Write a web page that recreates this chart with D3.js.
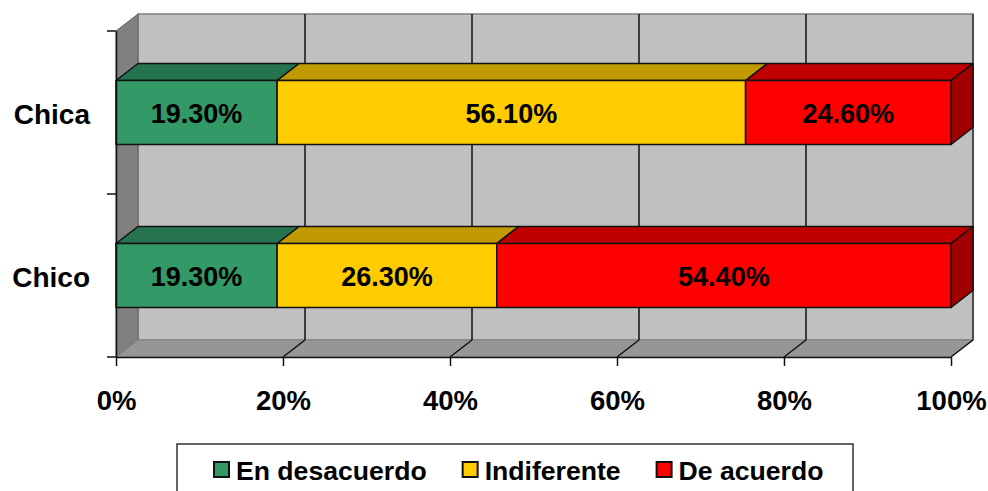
<!DOCTYPE html>
<html>
<head>
<meta charset="utf-8">
<script src="https://cdn.jsdelivr.net/npm/d3@7"></script>
<style>
  html, body { margin: 0; padding: 0; background: #fff; }
  svg { display: block; font-family: "Liberation Sans", Arial, sans-serif; }
</style>
</head>
<body>
<svg id="chart" width="988" height="491"></svg>
<script>
// ---- data ----
const categories = ["Chica", "Chico"];
const seriesNames = ["En desacuerdo", "Indiferente", "De acuerdo"];
const enDesacuerdo = [19.3, 19.3];
const indiferente = [56.1, 26.3];
const deAcuerdo = [24.6, 54.4];
const xTicks = [0, 20, 40, 60, 80, 100];

// ---- styles ----
const frontColors = ["#339966", "#FFCC00", "#FF0000"];
const topColors = ["#267350", "#C09A00", "#C00000"];
const sideColor = "#A00000";

const table = categories.map((c, i) => ({
  cat: c,
  "En desacuerdo": enDesacuerdo[i],
  "Indiferente": indiferente[i],
  "De acuerdo": deAcuerdo[i]
}));
const stacked = d3.stack().keys(seriesNames)(table);

const svg = d3.select("#chart");
const dx = 22, dy = 17;
const x = d3.scaleLinear().domain([0, 100]).range([116, 951]);
const y = d3.scaleBand().domain(categories).range([31, 357])
  .paddingInner(0.607).paddingOuter(0.3035);
const yTop = y.range()[0], yBot = y.range()[1];

// back wall
svg.append("rect")
  .attr("x", x(0) + dx).attr("y", yTop - dy)
  .attr("width", x(100) - x(0)).attr("height", yBot - yTop)
  .attr("fill", "#C0C0C0").attr("stroke", "#808080").attr("stroke-width", 1.5);
// left wall
svg.append("polygon")
  .attr("points", [[x(0), yTop], [x(0) + dx, yTop - dy], [x(0) + dx, yBot - dy], [x(0), yBot]].join(" "))
  .attr("fill", "#808080").attr("stroke", "#606060").attr("stroke-width", 1);
// floor
svg.append("polygon")
  .attr("points", [[x(0), yBot], [x(0) + dx, yBot - dy], [x(100) + dx, yBot - dy], [x(100), yBot]].join(" "))
  .attr("fill", "#969696").attr("stroke", "#808080").attr("stroke-width", 1);

// gridlines
const grid = svg.append("g").attr("stroke", "#111").attr("stroke-width", 1.5).attr("fill", "none");
xTicks.filter(t => t > 0).forEach(t => {
  grid.append("line")
    .attr("x1", x(t) + dx).attr("x2", x(t) + dx)
    .attr("y1", yTop - dy).attr("y2", yBot - dy)
    .attr("stroke", t === 100 ? "#333" : "#111");
  grid.append("line")
    .attr("x1", x(t)).attr("y1", yBot)
    .attr("x2", x(t) + dx).attr("y2", yBot - dy);
});

// bars
const bars = svg.append("g");
stacked.forEach((s, si) => {
  s.forEach((d, ci) => {
    const x0 = x(d[0]), x1 = x(d[1]);
    const yt = y(categories[ci]), yb = yt + y.bandwidth();
    const g = bars.append("g").attr("stroke", "#111").attr("stroke-width", 1.5).attr("stroke-linejoin", "round");
    g.append("polygon")
      .attr("points", [[x0, yt], [x0 + dx, yt - dy], [x1 + dx, yt - dy], [x1, yt]].join(" "))
      .attr("fill", topColors[si]);
    if (si === stacked.length - 1) {
      g.append("polygon")
        .attr("points", [[x1, yt], [x1 + dx, yt - dy], [x1 + dx, yb - dy], [x1, yb]].join(" "))
        .attr("fill", sideColor);
    }
    g.append("rect")
      .attr("x", x0).attr("y", yt).attr("width", x1 - x0).attr("height", yb - yt)
      .attr("fill", frontColors[si]);
  });
});

// bar labels
stacked.forEach((s, si) => {
  s.forEach((d, ci) => {
    const cx = (x(d[0]) + x(d[1])) / 2;
    const cy = y(categories[ci]) + y.bandwidth() / 2;
    svg.append("text")
      .attr("x", cx).attr("y", cy + 10.5)
      .attr("text-anchor", "middle")
      .attr("font-size", 27).attr("font-weight", "bold").attr("fill", "#000")
      .text(d3.format(".2f")(d[1] - d[0]) + "%");
  });
});

// bottom axis
const xAxis = svg.append("g")
  .attr("transform", `translate(0,${yBot})`)
  .call(d3.axisBottom(x).tickValues(xTicks).tickFormat(d => d + "%").tickSize(9).tickSizeOuter(0));
xAxis.select(".domain").attr("stroke", "#111").attr("stroke-width", 1.5);
xAxis.selectAll(".tick line").attr("stroke", "#111").attr("stroke-width", 1.5);
xAxis.selectAll(".tick text")
  .attr("y", 52.5).attr("dy", 0)
  .attr("font-size", 27.5).attr("font-weight", "bold").attr("fill", "#000")
  .attr("font-family", "'Liberation Sans', Arial, sans-serif");

// left axis
const yAxis = svg.append("g")
  .attr("transform", `translate(${x(0)},0)`)
  .call(d3.axisLeft(y).tickSize(0).tickPadding(26));
yAxis.select(".domain").attr("stroke", "#111").attr("stroke-width", 1.5);
yAxis.selectAll(".tick text")
  .attr("dy", 0).attr("y", 11)
  .attr("font-size", 28).attr("font-weight", "bold").attr("fill", "#000")
  .attr("font-family", "'Liberation Sans', Arial, sans-serif");
const bounds = [yTop].concat(categories.map(c => y(c) + y.bandwidth() / 2 + y.step() / 2));
svg.append("g").selectAll("line").data(bounds).join("line")
  .attr("x1", x(0) - 9).attr("x2", x(0))
  .attr("y1", d => d).attr("y2", d => d)
  .attr("stroke", "#111").attr("stroke-width", 1.5);

// legend
const legend = svg.append("g");
legend.append("rect")
  .attr("x", 177).attr("y", 444).attr("width", 676).attr("height", 70)
  .attr("fill", "#fff").attr("stroke", "#333").attr("stroke-width", 1.5);
let lx = 214;
seriesNames.forEach((name, i) => {
  legend.append("rect")
    .attr("x", lx).attr("y", 462).attr("width", 15).attr("height", 15)
    .attr("fill", frontColors[i]).attr("stroke", "#111").attr("stroke-width", 2);
  const t = legend.append("text")
    .attr("x", lx + 22).attr("y", 480)
    .attr("font-size", 26.6).attr("font-weight", "bold").attr("fill", "#000")
    .text(name);
  lx += 22 + t.node().getComputedTextLength() + 36;
});
</script>
</body>
</html>
